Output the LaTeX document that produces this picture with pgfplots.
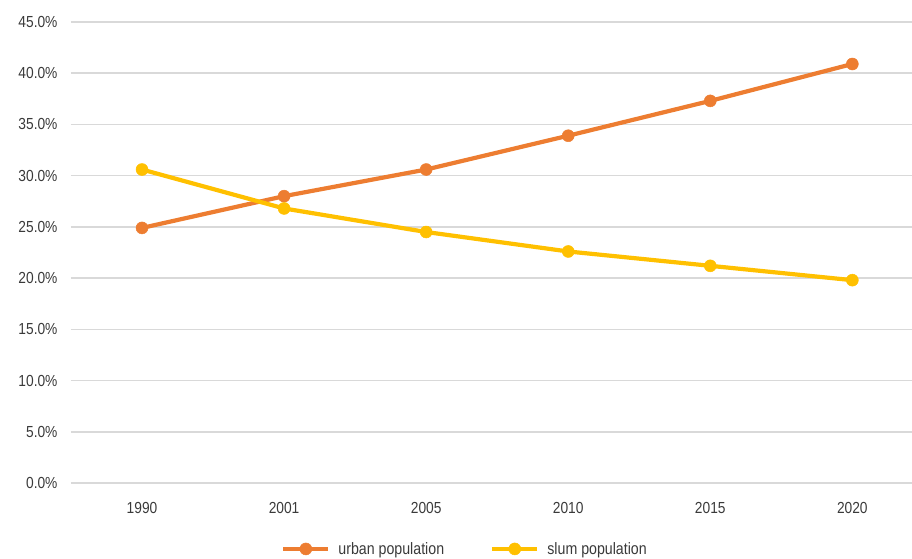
\documentclass[border=0pt]{standalone}
\usepackage{pgfplots}
\pgfplotsset{compat=1.18}
\usepackage{fontspec}
\setmainfont{Liberation Sans}[FakeStretch=0.86]
\definecolor{urban}{HTML}{ED7D31}
\definecolor{slum}{HTML}{FFC000}
\definecolor{gridc}{HTML}{D9D9D9}
\definecolor{txt}{HTML}{3A3A3A}
\begin{document}
\begin{tikzpicture}
\begin{axis}[
  at={(0,0)}, anchor=south west,
  scale only axis,
  width=841pt, height=461pt,
  xmin=-0.5, xmax=5.42,
  ymin=0, ymax=45,
  axis line style={draw=none},
  tick style={draw=none},
  xtick={0,1,2,3,4,5},
  xticklabels={1990,2001,2005,2010,2015,2020},
  ytick={0,5,...,45},
  yticklabel={\pgfmathprintnumber[fixed,fixed zerofill,precision=1]{\tick}\%},
  /pgf/number format/assume math mode=true,
  ymajorgrids,
  grid style={gridc, line width=1.5pt},
  tick label style={font=\fontsize{16}{19}\selectfont, text=txt},
  yticklabel style={xshift=-10pt},
  xticklabel style={yshift=-16pt},
  legend columns=2,
  legend style={draw=none, fill=none, at={(0.4685,-0.143)}, anchor=center,
    font=\fontsize{16.5}{19}\selectfont, text=txt,
    /tikz/every odd column/.append style={column sep=6pt},
    /tikz/every even column/.append style={column sep=44pt}},
  legend cell align=left,
  legend image code/.code={
    \draw[mark repeat=2,mark phase=2] plot coordinates {(0pt,0pt)(22.5pt,0pt)(45pt,0pt)};},
  clip=false,
]
\addplot[urban, line width=4.2pt, mark=*, mark size=6pt, mark options={solid,fill=urban,draw=urban,line width=0.5pt}]
  coordinates {(0,24.9) (1,28.0) (2,30.6) (3,33.9) (4,37.3) (5,40.9)};
\addlegendentry{urban population}
\addplot[slum, line width=4.2pt, mark=*, mark size=6pt, mark options={solid,fill=slum,draw=slum,line width=0.5pt}]
  coordinates {(0,30.6) (1,26.8) (2,24.5) (3,22.6) (4,21.2) (5,19.8)};
\addlegendentry{slum population}
\end{axis}
\pgfresetboundingbox
\path (-71pt,-75pt) rectangle (841pt,483pt);
\end{tikzpicture}
\end{document}
